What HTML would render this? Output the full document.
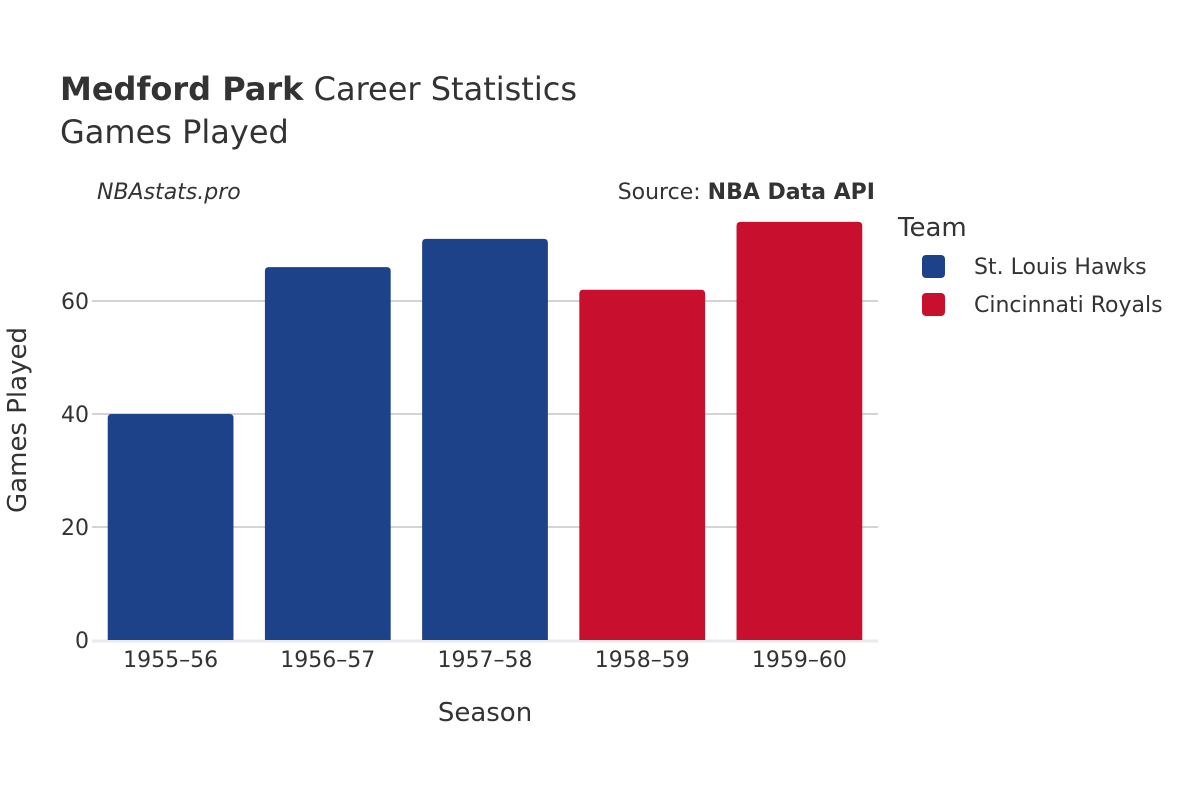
<!DOCTYPE html>
<html><head><meta charset="utf-8"><style>
body{margin:0;background:#fff;}
svg{display:block;font-family:"DejaVu Sans","Liberation Sans",sans-serif;}
</style></head><body>
<svg id="chart" width="1200" height="800">
<text x="60" y="100" font-size="32" fill="#333"><tspan font-weight="bold">Medford Park</tspan> Career Statistics</text>
<text x="60" y="143" font-size="32" fill="#333">Games Played</text>
<text x="97" y="199" font-size="22" font-style="italic" fill="#333">NBAstats.pro</text>
<text x="875" y="199" font-size="22" fill="#333" text-anchor="end">Source: <tspan font-weight="bold">NBA Data API</tspan></text>
<g id="grid"></g><g id="bars"></g><g id="xt"></g><g id="yt"></g>
<text x="485" y="721" font-size="26" fill="#333" text-anchor="middle">Season</text>
<text transform="translate(26,420) rotate(-90)" font-size="26" fill="#333" text-anchor="middle">Games Played</text>
<text x="898" y="236" font-size="26" fill="#333">Team</text>
<g><rect x="922" y="255" width="23" height="23" rx="4" fill="#1d428a"/><text x="974" y="274" font-size="22" fill="#333">St. Louis Hawks</text></g>
<g><rect x="922" y="293" width="23" height="23" rx="4" fill="#c8102e"/><text x="974" y="312" font-size="22" fill="#333">Cincinnati Royals</text></g>
</svg>
<script>
const seasons=["1955–56","1956–57","1957–58","1958–59","1959–60"];
const games=[40,66,71,62,74];
const teams=["hawks","hawks","hawks","royals","royals"];
const yTicks=[0,20,40,60];
const colors={hawks:"#1d428a",royals:"#c8102e"};
const NS="http://www.w3.org/2000/svg";
const x0=92,x1=878,y0=640,pxPerUnit=5.65;
const band=(x1-x0)/seasons.length;
const yS=v=>y0-v*pxPerUnit;
const xS=i=>x0+band*i;
function mk(t,a,p){const e=document.createElementNS(NS,t);for(const k in a)e.setAttribute(k,a[k]);document.getElementById(p).appendChild(e);return e;}
yTicks.forEach(v=>{
 if(v>0){const l=mk("line",{x1:x0,x2:x1,y1:yS(v),y2:yS(v),stroke:"#bbb","stroke-width":1.3},"grid");
 
 }
 const t=mk("text",{x:x0-3,y:yS(v)+8,"font-size":22,fill:"#333","text-anchor":"end"},"yt");t.textContent=v;
 
 
});
const z=mk("line",{x1:x0,x2:x1,y1:y0+1,y2:y0+1,stroke:"#eaeaee","stroke-width":3},"grid");


games.forEach((g,i)=>{
 const w=band*0.8,bx=xS(i)+band*0.1,top=yS(g),r=4;
 const p=mk("path",{d:`M${bx},${y0}V${top+r}Q${bx},${top} ${bx+r},${top}H${bx+w-r}Q${bx+w},${top} ${bx+w},${top+r}V${y0}Z`,fill:colors[teams[i]]},"bars");
 
 
 const t=mk("text",{x:xS(i)+band/2,y:667,"font-size":22,fill:"#333","text-anchor":"middle"},"xt");t.textContent=seasons[i];
 
 
});
</script>
</body></html>
